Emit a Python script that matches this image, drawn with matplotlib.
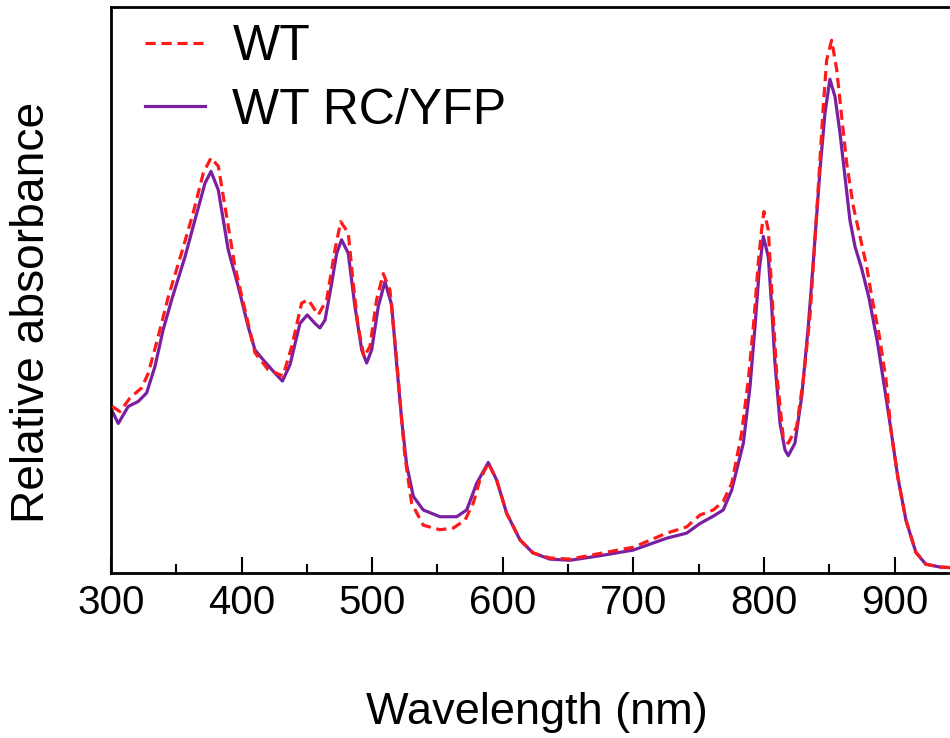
import matplotlib.pyplot as plt
import numpy as np

plt.rcParams["font.family"] = ["Liberation Sans", "DejaVu Sans"]

# WT RC/YFP (solid purple)
wl_rc = [300.5, 305.6, 313.2, 320.9, 327.3, 333.7, 340.0, 346.5, 356.7, 364.3,
         372.0, 376.6, 382.2, 389.8, 397.5, 405.1, 410.3, 417.9, 425.6, 431.3,
         437.1, 444.7, 450.3, 456.2, 460.0, 463.9, 469.0, 472.8, 476.6, 481.7,
         486.8, 492.0, 495.8, 499.6, 504.7, 509.8, 514.9, 518.8, 522.6, 526.4,
         531.5, 539.1, 551.9, 564.7, 572.4, 580.0, 588.9, 595.3, 603.0, 613.2,
         623.1, 636.1, 651.5, 674.4, 699.9, 725.5, 740.8, 751.0, 761.2, 768.8,
         775.3, 779.1, 784.2, 789.3, 793.1, 796.4, 799.5, 803.3, 805.9, 808.4,
         812.3, 816.1, 818.6, 823.7, 828.9, 833.9, 837.7, 842.9, 846.7, 850.5,
         854.4, 858.2, 862.0, 865.8, 869.7, 874.7, 880.4, 887.1, 892.2, 897.2,
         902.4, 908.7, 916.3, 923.9, 934.8, 942.4]
abs_rc = [0.288, 0.264, 0.294, 0.303, 0.318, 0.365, 0.430, 0.483, 0.559, 0.624,
          0.689, 0.710, 0.677, 0.571, 0.506, 0.435, 0.394, 0.373, 0.353, 0.339,
          0.368, 0.441, 0.456, 0.441, 0.433, 0.447, 0.512, 0.565, 0.589, 0.565,
          0.471, 0.394, 0.371, 0.394, 0.471, 0.515, 0.474, 0.368, 0.270, 0.191,
          0.135, 0.111, 0.099, 0.099, 0.111, 0.158, 0.195, 0.164, 0.105, 0.058,
          0.035, 0.024, 0.022, 0.030, 0.040, 0.061, 0.070, 0.087, 0.100, 0.111,
          0.146, 0.182, 0.229, 0.329, 0.435, 0.536, 0.595, 0.559, 0.471, 0.371,
          0.264, 0.217, 0.207, 0.229, 0.312, 0.435, 0.548, 0.713, 0.813, 0.873,
          0.842, 0.778, 0.701, 0.624, 0.577, 0.539, 0.486, 0.405, 0.329, 0.253,
          0.170, 0.093, 0.036, 0.015, 0.010, 0.009]

# WT (dashed red)
wl_wt = [301.0, 306.9, 314.5, 323.5, 328.6, 336.2, 343.9, 354.1, 363.0, 370.7,
         376.6, 382.2, 387.3, 394.9, 402.6, 410.3, 420.4, 431.7, 438.4, 446.0,
         451.1, 458.7, 465.2, 471.5, 475.9, 481.7, 485.5, 489.1, 493.7, 498.3,
         503.4, 508.5, 513.6, 518.8, 522.6, 525.1, 530.2, 539.1, 551.9, 562.1,
         571.1, 577.4, 582.5, 588.9, 595.3, 603.0, 613.2, 623.1, 636.1, 651.5,
         674.4, 699.9, 725.5, 740.8, 751.0, 761.2, 768.8, 775.3, 782.9, 788.0,
         792.3, 795.6, 798.2, 800.0, 803.3, 805.9, 809.7, 814.8, 818.6, 825.0,
         830.1, 835.2, 837.7, 841.6, 845.4, 848.0, 851.8, 855.7, 859.5, 863.3,
         868.4, 873.5, 878.6, 882.1, 888.4, 893.4, 897.2, 902.4, 908.7, 916.3,
         923.9, 934.8, 942.4]
abs_wt = [0.294, 0.285, 0.309, 0.327, 0.353, 0.418, 0.488, 0.566, 0.637, 0.707,
          0.734, 0.719, 0.648, 0.542, 0.465, 0.389, 0.359, 0.348, 0.400, 0.477,
          0.483, 0.456, 0.483, 0.571, 0.621, 0.601, 0.512, 0.438, 0.382, 0.400,
          0.483, 0.529, 0.500, 0.376, 0.270, 0.205, 0.123, 0.084, 0.076, 0.079,
          0.093, 0.123, 0.164, 0.194, 0.164, 0.105, 0.058, 0.035, 0.026, 0.024,
          0.034, 0.045, 0.070, 0.081, 0.102, 0.111, 0.126, 0.158, 0.247, 0.341,
          0.447, 0.548, 0.607, 0.639, 0.607, 0.500, 0.353, 0.238, 0.229, 0.258,
          0.341, 0.453, 0.542, 0.683, 0.825, 0.907, 0.942, 0.890, 0.807, 0.725,
          0.648, 0.595, 0.542, 0.494, 0.418, 0.342, 0.253, 0.170, 0.093, 0.036,
          0.015, 0.010, 0.009]

fig = plt.figure(figsize=(9.5, 7.38), dpi=100)
# right edge of the axes runs past the figure, as in the original crop
ax = fig.add_axes([0.1168, 0.224, 0.8936, 0.7659])

ax.plot(wl_rc, abs_rc, color="#7b1fa2", lw=2.3, label="WT RC/YFP", zorder=2,
        solid_joinstyle="round")
ax.plot(wl_wt, abs_wt, color="#ff1a1a", lw=2.3, ls=(0, (3.2, 1.8)), label="WT", zorder=3)

ax.set_xlim(300, 950)
ax.set_ylim(0, 1)
ax.set_xticks(np.arange(300, 1000, 100))
ax.set_xticks(np.arange(350, 950, 100), minor=True)
ax.set_yticks([])
ax.tick_params(axis="x", which="major", direction="in", length=11.5, width=1.5,
               labelsize=29, pad=8)
ax.tick_params(axis="x", which="minor", direction="in", length=6.5, width=1.5)
for side in ["left", "bottom", "top", "right"]:
    ax.spines[side].set_linewidth(2)

ax.set_xlabel("Wavelength (nm)", fontsize=32.5, va="center")
ax.xaxis.set_label_coords(0.502, -0.2466)
ax.set_ylabel("Relative absorbance", fontsize=33.2, va="center")
ax.yaxis.set_label_coords(-0.093, 0.461)

handles, labels = ax.get_legend_handles_labels()
ax.legend(handles[::-1], labels[::-1], loc="upper left", bbox_to_anchor=(-0.013, 1.05),
          frameon=False, fontsize=36, handlelength=1.2, handletextpad=0.55,
          labelspacing=0.35)

fig.savefig("out.png", dpi=100)
